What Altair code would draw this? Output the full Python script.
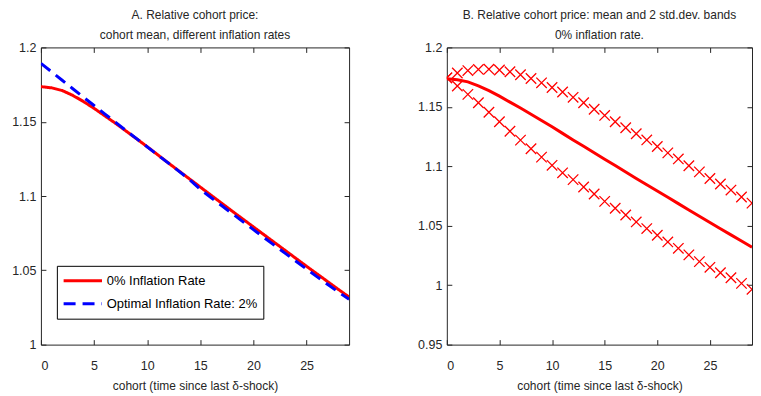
import altair as alt
import pandas as pd

# ---------------- data ----------------
t = list(range(30))

# Panel A: cohort mean relative price
p_zero = [1.1736, 1.1728, 1.1710, 1.1677, 1.1636, 1.1590, 1.1540, 1.1490, 1.1438, 1.1385,
          1.1332, 1.1277, 1.1222, 1.1168, 1.1114, 1.1060, 1.1006, 1.0952, 1.0898, 1.0845,
          1.0792, 1.0739, 1.0686, 1.0633, 1.0580, 1.0527, 1.0475, 1.0423, 1.0371, 1.0320]
p_opt = [1.1893, 1.1836, 1.1779, 1.1722, 1.1665, 1.1609, 1.1553, 1.1497, 1.1441, 1.1386,
         1.1331, 1.1276, 1.1221, 1.1166, 1.1110, 1.1045, 1.0990, 1.0936, 1.0882, 1.0828,
         1.0774, 1.0720, 1.0667, 1.0614, 1.0561, 1.0508, 1.0456, 1.0404, 1.0353, 1.0305]

# Panel B: mean and 2 std.dev. bands (0% inflation)
upper = [1.1744, 1.1785, 1.1805, 1.1815, 1.1817, 1.1810, 1.1795, 1.1770, 1.1738, 1.1702,
         1.1663, 1.1625, 1.1580, 1.1535, 1.1480, 1.1428, 1.1375, 1.1324, 1.1274, 1.1222,
         1.1166, 1.1113, 1.1062, 1.1005, 1.0953, 1.0897, 1.0851, 1.0800, 1.0742, 1.0690]
lower = [1.1744, 1.1675, 1.1605, 1.1535, 1.1455, 1.1375, 1.1295, 1.1220, 1.1148, 1.1077,
         1.1008, 1.0945, 1.0888, 1.0826, 1.0767, 1.0705, 1.0647, 1.0590, 1.0532, 1.0476,
         1.0420, 1.0364, 1.0310, 1.0255, 1.0198, 1.0150, 1.0105, 1.0062, 1.0015, 0.9965]

series = ["0% Inflation Rate", "Optimal Inflation Rate: 2%"]
x_ticks = [0, 5, 10, 15, 20, 25]
y_ticks_a = [1, 1.05, 1.1, 1.15, 1.2]
y_ticks_b = [0.95, 1, 1.05, 1.1, 1.15, 1.2]

title_a = ["A. Relative cohort price:", "cohort mean, different inflation rates"]
title_b = ["B. Relative cohort price: mean and 2 std.dev. bands", "0% inflation rate."]
x_title = "cohort (time since last δ-shock)"

FONT = "Liberation Sans"
TXT = "#262626"
W1, W2, H = 309, 306, 298

df_a = pd.DataFrame({
    "t": t + t,
    "p": p_zero + p_opt,
    "series": [series[0]] * len(t) + [series[1]] * len(t),
})
df_mean = pd.DataFrame({"t": t, "p": p_zero})
df_band = pd.DataFrame({
    "t": t + t,
    "p": upper + lower,
    "band": ["upper"] * len(t) + ["lower"] * len(t),
})

x_scale = alt.Scale(domain=[0, 29], nice=False, zero=False)
y_scale_a = alt.Scale(domain=[1, 1.2], nice=False, zero=False)
y_scale_b = alt.Scale(domain=[0.95, 1.2], nice=False, zero=False)


def title(lines):
    return alt.TitleParams(text=lines[0], subtitle=lines[1],
                           fontSize=12, font=FONT, fontWeight="normal", color=TXT,
                           subtitleFontSize=12, subtitleFont=FONT, subtitleColor=TXT,
                           subtitleFontWeight="normal", subtitlePadding=8,
                           offset=-1, anchor="middle")


def frame(df, yscale, yticks):
    # invisible layer that only carries the top and right (inward) tick axes
    return alt.Chart(df).mark_point(opacity=0, clip=True, size=1).encode(
        x=alt.X("t:Q", scale=x_scale,
                axis=alt.Axis(values=x_ticks, orient="top", labels=False, title=None)),
        y=alt.Y("p:Q", scale=yscale,
                axis=alt.Axis(values=yticks, orient="right", labels=False, title=None)),
    )


leg = alt.Legend(orient="none", legendX=16, legendY=219, title=None,
                 strokeColor="black", fillColor="white", padding=5,
                 symbolType="stroke", symbolSize=1480, symbolStrokeWidth=3,
                 clipHeight=20, rowPadding=3,
                 labelFont=FONT, labelFontSize=13, labelColor="black",
                 labelOffset=3, labelLimit=400)

lines_a = alt.Chart(df_a).mark_line(strokeWidth=3, clip=True).encode(
    x=alt.X("t:Q", scale=x_scale,
            axis=alt.Axis(values=x_ticks, orient="bottom", title=x_title)),
    y=alt.Y("p:Q", scale=y_scale_a,
            axis=alt.Axis(values=y_ticks_a, orient="left", title=None, format="~g")),
    color=alt.Color("series:N", sort=series,
                    scale=alt.Scale(domain=series, range=["#ff0000", "#0000ff"]),
                    legend=leg),
    strokeDash=alt.StrokeDash("series:N", sort=series,
                              scale=alt.Scale(domain=series, range=[[1, 0], [12, 7]]),
                              legend=leg),
)

panel_a = alt.layer(lines_a, frame(df_a, y_scale_a, y_ticks_a)).properties(
    width=W1, height=H, title=title(title_a))

mean_b = alt.Chart(df_mean).mark_line(strokeWidth=3, color="#ff0000", clip=True).encode(
    x=alt.X("t:Q", scale=x_scale,
            axis=alt.Axis(values=x_ticks, orient="bottom", title=x_title)),
    y=alt.Y("p:Q", scale=y_scale_b,
            axis=alt.Axis(values=y_ticks_b, orient="left", title=None, format="~g")),
)
bands_b = alt.Chart(df_band).mark_point(
    shape="M-1,-1L1,1M-1,1L1,-1", filled=False, stroke="#ff0000", color="#ff0000",
    strokeWidth=1.3, size=110, opacity=1, clip=True).encode(
    x=alt.X("t:Q", scale=x_scale, axis=None),
    y=alt.Y("p:Q", scale=y_scale_b, axis=None),
    detail="band:N",
)

panel_b = alt.layer(mean_b, bands_b, frame(df_mean, y_scale_b, y_ticks_b)).properties(
    width=W2, height=H, title=title(title_b))

chart = alt.hconcat(panel_a, panel_b, spacing=67).properties(
    padding={"left": 3, "top": 0, "right": 0, "bottom": 0}
).configure(
    font=FONT
).configure_view(
    stroke=TXT, strokeWidth=1
).configure_axis(
    offset=-5, tickSize=5, domain=False, grid=False,
    tickColor=TXT, tickWidth=1,
    labelFont=FONT, labelFontSize=12.5, labelColor=TXT,
    labelPadding=5,
    titleFont=FONT, titleFontSize=12, titleFontWeight="normal", titleColor=TXT,
    titlePadding=9,
).configure_axisBottom(
    labelPadding=15
)

chart.save("out.html", embed_options={"renderer": "svg", "actions": False})
